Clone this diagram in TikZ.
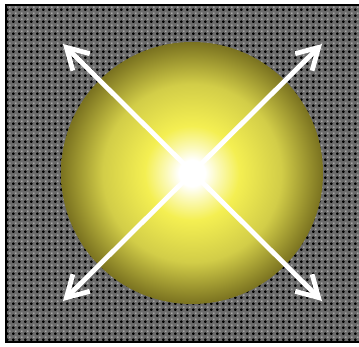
\documentclass[tikz,border=0pt]{standalone}
\usetikzlibrary{arrows.meta,patterns.meta,shadings}
\tikzdeclarepattern{
  name=blackcross,
  type=uncolored,
  bottom left={(0pt,0pt)},
  top right={(6pt,6pt)},
  tile size={(6pt,6pt)},
  code={
    \fill (0pt,0.8pt) rectangle (3pt,2.2pt);
    \fill (0.8pt,0pt) rectangle (2.2pt,3pt);
  }
}
\tikzdeclarepattern{
  name=whitedot,
  type=uncolored,
  bottom left={(0pt,0pt)},
  top right={(6pt,6pt)},
  tile size={(6pt,6pt)},
  code={
    \fill (3.8pt,3.8pt) rectangle (5.2pt,5.2pt);
  }
}
\definecolor{olive}{HTML}{7A7220}
\definecolor{yelmid}{HTML}{D2CD48}
\definecolor{yelbright}{HTML}{F4EF52}
\definecolor{yelpale}{HTML}{FBF9B8}
\pgfdeclareradialshading{yellowball}{\pgfpoint{0bp}{0bp}}{%
  color(0bp)=(white); color(2.5bp)=(white); color(5bp)=(yelpale);
  color(9bp)=(yelbright); color(17bp)=(yelmid); color(25bp)=(olive);
  color(50bp)=(olive)}
\tikzset{
  barb/.tip={Straight Barb[length=21pt,width=24pt,line width=4.8pt]},
  arrowline/.style={white, line width=4.8pt, barb-barb},
}
\begin{document}
\begin{tikzpicture}[x=1pt,y=-1pt]
\useasboundingbox (0,0) rectangle (359,347);
\fill[white] (0,0) rectangle (359,347);
\fill[black!58] (6,5) rectangle (359,342);
\fill[pattern={blackcross}, pattern color=black] (6,5) rectangle (359,342);
\fill[pattern={whitedot}, pattern color=white] (6,5) rectangle (359,342);
\draw[black, line width=1.8pt] (359,5) -- (6,5) -- (6,342) -- (359,342);
\shade[shading=yellowball] (192,173) circle[radius=131];
\coordinate (ul) at (63,44);
\coordinate (ur) at (322,44);
\coordinate (ll) at (63,301);
\coordinate (lr) at (322,301);
\draw[arrowline] (ul) -- (lr);
\draw[arrowline] (ur) -- (ll);
\end{tikzpicture}
\end{document}
